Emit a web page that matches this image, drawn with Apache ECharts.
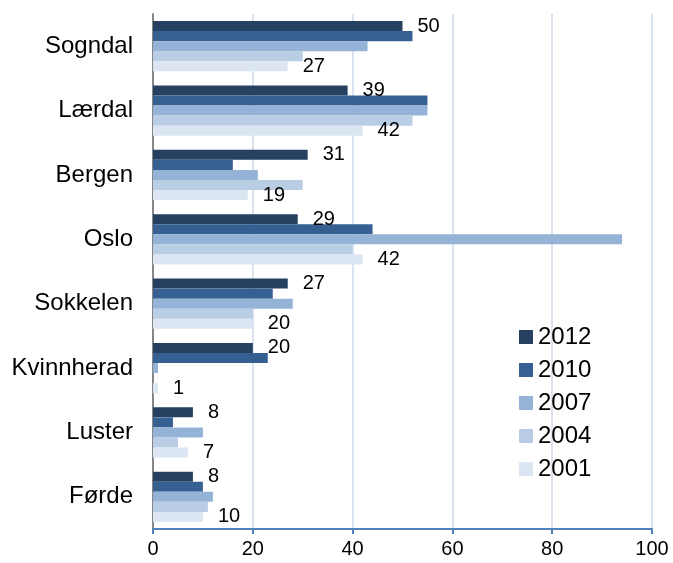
<!DOCTYPE html>
<head>
    <meta charset="utf-8">
    <title>ECharts</title>
    <style>
        body{ margin:0; background:#fff; }
        #main{ width:673px; height:563px; }
    </style>
</head>
<body>
<div id="main"></div>

<script src="https://cdn.jsdelivr.net/npm/echarts/dist/echarts.min.js"></script>
<script type="text/javascript">
    // kategorier, ovenfra og ned
    var places = ['Sogndal', 'Lærdal', 'Bergen', 'Oslo', 'Sokkelen', 'Kvinnherad', 'Luster', 'Førde'];
    var years = ['2012', '2010', '2007', '2004', '2001'];
    var colors = ['#254061', '#376092', '#95B3D7', '#B9CDE5', '#DCE6F2'];

    var v2012 = [50, 39, 31, 29, 27, 20, 8, 8];
    var v2010 = [52, 55, 16, 44, 24, 23, 4, 10];
    var v2007 = [43, 55, 21, 94, 28, 1, 10, 12];
    var v2004 = [30, 52, 30, 40, 20, 0, 5, 11];
    var v2001 = [27, 42, 19, 42, 20, 1, 7, 10];
    var xTicks = [0, 20, 40, 60, 80, 100];

    window.onload = function () {
        var values = [v2012, v2010, v2007, v2004, v2001];
        var series = [];
        for (var i = 0; i < years.length; i++) {
            var withLabel = (i === 0 || i === years.length - 1);
            series.push({
                name: years[i],
                type: 'bar',
                data: values[i],
                barGap: '0%',
                barCategoryGap: '22%',
                itemStyle: { color: colors[i] },
                label: {
                    show: withLabel,
                    position: 'right',
                    distance: 15,
                    color: '#000',
                    fontSize: 20,
                    fontFamily: 'Liberation Sans'
                }
            });
        }

        var chart = echarts.init(document.getElementById('main'));
        chart.setOption({
            backgroundColor: '#fff',
            animation: false,
            textStyle: { fontFamily: 'Liberation Sans' },
            grid: { left: 153, right: 21, top: 14, bottom: 34, containLabel: false },
            legend: {
                data: years,
                orient: 'vertical',
                left: 514,
                top: 320,
                itemWidth: 14,
                itemHeight: 14,
                itemGap: 9,
                icon: 'rect',
                textStyle: { fontSize: 24, color: '#000' }
            },
            xAxis: {
                type: 'value',
                min: xTicks[0],
                max: xTicks[xTicks.length - 1],
                interval: 20,
                axisLine: { show: true, lineStyle: { color: '#4F81BD', width: 2 } },
                axisTick: { show: true, length: 5, lineStyle: { color: '#4F81BD', width: 2 } },
                axisLabel: { fontSize: 20, color: '#000', margin: 10 },
                splitLine: { show: true, lineStyle: { color: '#DAE4F1', width: 2 } }
            },
            yAxis: {
                type: 'category',
                data: places,
                inverse: true,
                axisLine: { lineStyle: { color: '#868686', width: 2 } },
                axisTick: { length: 7, lineStyle: { color: '#868686', width: 2 } },
                axisLabel: { fontSize: 24, color: '#000', margin: 20 }
            },
            series: series
        });
    };
</script>
</body>
